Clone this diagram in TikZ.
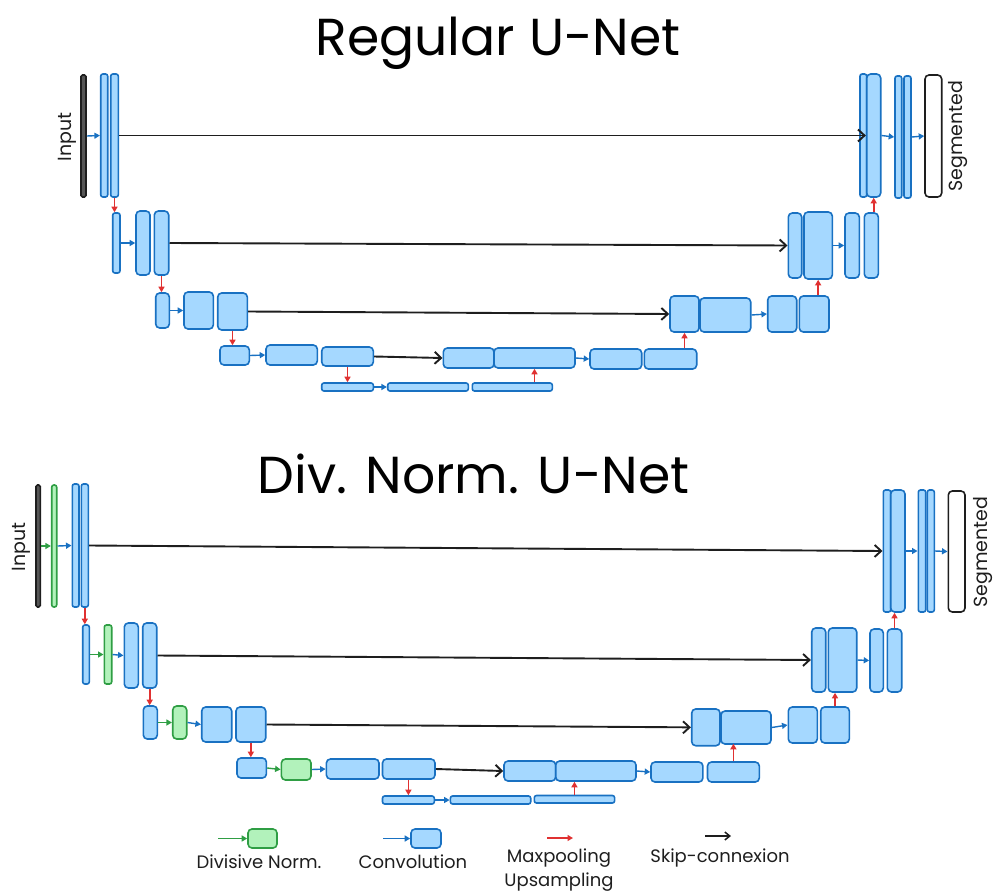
\documentclass[tikz,border=0pt]{standalone}
\usepackage{fontspec}
\setmainfont{Poppins}
\usetikzlibrary{arrows.meta}

\definecolor{convfill}{HTML}{A5D8FF}
\definecolor{convdraw}{HTML}{1971C2}
\definecolor{dnfill}{HTML}{B2F2BB}
\definecolor{dndraw}{HTML}{2F9E44}
\definecolor{poolred}{HTML}{E03131}
\definecolor{ink}{HTML}{1E1E1E}

\tikzset{
  layer/.style={rectangle, inner sep=0pt, line width=1.6pt},
  conv/.style={layer, rounded corners=4pt, fill=convfill, draw=convdraw},
  convthin/.style={layer, rounded corners=2.2pt, fill=convfill, draw=convdraw},
  dnorm/.style={layer, rounded corners=4pt, fill=dnfill, draw=dndraw},
  dnormthin/.style={layer, rounded corners=2.2pt, fill=dnfill, draw=dndraw},
  inbar/.style={layer, rounded corners=1.5pt, fill=ink!75, draw=ink},
  outbox/.style={layer, rounded corners=4pt, fill=white, draw=ink},
  convarrow/.style={draw=convdraw, line width=1.4pt, -{Triangle[length=5.5pt,width=6pt]}},
  dnarrow/.style={draw=dndraw, line width=1.4pt, -{Triangle[length=5.5pt,width=6pt]}},
  poolarrow/.style={draw=poolred, line width=1.6pt, -{Triangle[length=5.5pt,width=6pt]}},
  skiparrow/.style={draw=ink, line width=1.9pt, -{Straight Barb[length=6.5pt,width=12pt]}},
  legarrow/.style={line width=1.5pt, -{Straight Barb[length=5pt,width=8pt]}},
  title/.style={inner sep=0pt, font=\fontsize{52}{60}\selectfont},
  lbl/.style={inner sep=0pt, text=ink, font=\fontsize{18}{24}\selectfont},
  sidelbl/.style={lbl, rotate=90, font=\fontsize{19}{24}\selectfont},
}

% \layerbox{style}{name}{x1}{y1}{x2}{y2}
\newcommand\layerbox[6]{%
  \node[#1, minimum width={(#5-#3)*1pt}, minimum height={(#6-#4)*1pt}]
    (#2) at ({(#3+#5)/2},{(#4+#6)/2}) {};}

\begin{document}
\begin{tikzpicture}[x=1pt,y=-1pt]
\useasboundingbox (0,0) rectangle (993,894);

%% ---------------- Regular U-Net ----------------
\node[title, anchor=base] (t1) at (498,55) {Regular U-Net};

\node[sidelbl] (inlbl1) at (67,137) {Input};
\layerbox{inbar}{in1}{81}{75}{86}{197}
\layerbox{convthin}{e1a}{100.7}{74}{107.7}{197}
\layerbox{convthin}{e1b}{110.7}{74}{118.3}{197}

\layerbox{convthin}{e2a}{112.7}{213}{120}{273}
\layerbox{conv}{e2b}{136}{211}{150}{275}
\layerbox{conv}{e2c}{154.3}{211}{168.7}{275}

\layerbox{conv}{e3a}{155.7}{293}{169.3}{328}
\layerbox{conv}{e3b}{184}{292}{213.3}{329}
\layerbox{conv}{e3c}{217.7}{293}{247.3}{330}

\layerbox{conv}{e4a}{220}{346}{249.3}{365}
\layerbox{conv}{e4b}{266}{345}{317.3}{365}
\layerbox{conv}{e4c}{321.7}{347}{373.3}{366}

\layerbox{convthin}{b1}{321.7}{383}{373.3}{391}
\layerbox{convthin}{b2}{387.7}{383}{468.3}{391}
\layerbox{convthin}{b3}{472.3}{383}{552.3}{391}

\layerbox{conv}{d4a}{443.3}{348}{494}{368}
\layerbox{conv}{d4b}{494}{348}{575}{368}
\layerbox{conv}{d4c}{590}{349}{641.7}{369}
\layerbox{conv}{d4d}{644.3}{349}{696.7}{369}

\layerbox{conv}{d3a}{670}{296}{699}{332}
\layerbox{conv}{d3b}{700}{298}{750.7}{332}
\layerbox{conv}{d3c}{767.7}{296}{796.7}{332}
\layerbox{conv}{d3d}{799.3}{296}{829}{332}

\layerbox{conv}{d2a}{788.3}{213}{801.7}{278}
\layerbox{conv}{d2b}{804}{212}{832.3}{279}
\layerbox{conv}{d2c}{845}{213}{859.3}{278}
\layerbox{conv}{d2d}{864.3}{213}{878.3}{278}

\layerbox{convthin}{d1a}{860}{74}{866.7}{197}
\layerbox{conv}{d1b}{866.7}{74}{880.7}{197}
\layerbox{convthin}{d1c}{895}{76}{901.7}{198}
\layerbox{convthin}{d1d}{904}{76}{911}{198}
\layerbox{outbox}{out1}{925}{75}{941.7}{197}
\node[sidelbl] (outlbl1) at (958,136) {Segmented};

% convolutions
\draw[convarrow] (in1.east) -- (e1a.west);
\draw[convarrow] (e2a.east) -- (e2b.west);
\draw[convarrow] (e3a.east) -- (e3b.west);
\draw[convarrow] (e4a.east) -- (e4b.west);
\draw[convarrow] (b1.east) -- (b2.west);
\draw[convarrow] (d4b.east) -- (d4c.west);
\draw[convarrow] (d3b.east) -- (d3c.west);
\draw[convarrow] (d2b.east) -- (d2c.west);
\draw[convarrow] (d1b.east) -- (d1c.west);
\draw[convarrow] (d1d.east) -- (out1.west);
% skip connections
\draw[skiparrow] (e1b.east) -- (d1b.west);
\draw[skiparrow] (e2c.east) -- (d2a.west);
\draw[skiparrow] (e3c.east) -- (d3a.west);
\draw[skiparrow] (e4c.east) -- (d4a.west);
% pooling / upsampling
\draw[poolarrow] (e1b.south) -- (e1b.south |- e2a.north);
\draw[poolarrow] (e2c.south) -- (e2c.south |- e3a.north);
\draw[poolarrow] (e3c.south) -- (e3c.south |- e4a.north);
\draw[poolarrow] (e4c.south) -- (e4c.south |- b1.north);
\draw[poolarrow] (d4b.south |- b3.north) -- (d4b.south);
\draw[poolarrow] (d3a.south |- d4d.north) -- (d3a.south);
\draw[poolarrow] (d2b.south |- d3d.north) -- (d2b.south);
\draw[poolarrow] (d1b.south |- d2d.north) -- (d1b.south);

%% ---------------- Div. Norm. U-Net ----------------
\node[title, anchor=base] (t2) at (473.5,493) {Div. Norm. U-Net};

\node[sidelbl] (inlbl2) at (21,547) {Input};
\layerbox{inbar}{In}{36}{485}{40.3}{607}
\layerbox{dnormthin}{g1}{51.7}{485}{56.7}{607}
\layerbox{convthin}{E1a}{72.3}{484}{79}{607}
\layerbox{convthin}{E1b}{81.3}{484}{88.3}{607}

\layerbox{convthin}{E2a}{82.7}{625}{89.3}{684}
\layerbox{dnormthin}{g2}{104.3}{625}{111.7}{684}
\layerbox{conv}{E2b}{124.3}{623}{138.3}{688}
\layerbox{conv}{E2c}{142.7}{623}{156.7}{688}

\layerbox{conv}{E3a}{143.3}{706}{157.3}{739}
\layerbox{dnorm}{g3}{172.7}{706}{186.7}{739}
\layerbox{conv}{E3b}{201.7}{707}{231.7}{742}
\layerbox{conv}{E3c}{236}{707}{265.7}{742}

\layerbox{conv}{E4a}{237}{758}{266.4}{778}
\layerbox{dnorm}{g4}{281.4}{759}{311}{780}
\layerbox{conv}{E4b}{326.4}{759}{379}{779}
\layerbox{conv}{E4c}{382.5}{759}{435}{779}

\layerbox{convthin}{B1}{382.5}{796}{434.3}{804}
\layerbox{convthin}{B2}{450.4}{796}{530.7}{804}
\layerbox{convthin}{B3}{534.3}{795.5}{614.6}{803}

\layerbox{conv}{D4a}{504}{761}{555.7}{781}
\layerbox{conv}{D4b}{555.7}{761}{636}{781}
\layerbox{conv}{D4c}{651}{762}{702.9}{782}
\layerbox{conv}{D4d}{707.5}{762}{759.3}{782}

\layerbox{conv}{D3a}{691.7}{709}{720}{745.7}
\layerbox{conv}{D3b}{721}{711}{771}{744}
\layerbox{conv}{D3c}{788.3}{707}{817.3}{743}
\layerbox{conv}{D3d}{820.7}{707}{849.3}{743}

\layerbox{conv}{D2a}{811.7}{628}{825.7}{692}
\layerbox{conv}{D2b}{828.3}{628}{856.7}{692}
\layerbox{conv}{D2c}{870}{629}{883.3}{692}
\layerbox{conv}{D2d}{887.3}{629}{901.7}{692}

\layerbox{convthin}{D1a}{883.3}{490}{890.7}{612}
\layerbox{conv}{D1b}{890.7}{490}{905}{612}
\layerbox{convthin}{D1c}{918.3}{490}{925.7}{612}
\layerbox{convthin}{D1d}{927.3}{490}{934.3}{612}
\layerbox{outbox}{Out}{948.3}{491}{965}{612}
\node[sidelbl] (outlbl2) at (983,552) {Segmented};

% divisive normalisation
\draw[dnarrow] (In.east) -- (g1.west);
\draw[dnarrow] (E2a.east) -- (g2.west);
\draw[dnarrow] (E3a.east) -- (g3.west);
\draw[dnarrow] (E4a.east) -- (g4.west);
% convolutions
\draw[convarrow] (g1.east) -- (E1a.west);
\draw[convarrow] (g2.east) -- (E2b.west);
\draw[convarrow] (g3.east) -- (E3b.west);
\draw[convarrow] (g4.east) -- (E4b.west);
\draw[convarrow] (B1.east) -- (B2.west);
\draw[convarrow] (D4b.east) -- (D4c.west);
\draw[convarrow] (D3b.east) -- (D3c.west);
\draw[convarrow] (D2b.east) -- (D2c.west);
\draw[convarrow] (D1b.east) -- (D1c.west);
\draw[convarrow] (D1d.east) -- (Out.west);
% skip connections
\draw[skiparrow] (E1b.east) -- (D1a.west);
\draw[skiparrow] (E2c.east) -- (D2a.west);
\draw[skiparrow] (E3c.east) -- (D3a.west);
\draw[skiparrow] (E4c.east) -- (D4a.west);
% pooling / upsampling
\draw[poolarrow] (E1b.south) -- (E1b.south |- E2a.north);
\draw[poolarrow] (E2c.south) -- (E2c.south |- E3a.north);
\draw[poolarrow] (E3c.south) -- (E3c.south |- E4a.north);
\draw[poolarrow] (B1.north |- E4c.south) -- (B1.north);
\draw[poolarrow] (B3.north) -- (B3.north |- D4b.south);
\draw[poolarrow] (D4d.north) -- (D4d.north |- D3d.south);
\draw[poolarrow] (D3d.north) -- (D3d.north |- D2d.south);
\draw[poolarrow] (D2d.north) -- (D2d.north |- D1b.south);

%% ---------------- Legend ----------------
\layerbox{dnorm}{lgdn}{248}{829}{277}{848}
\coordinate (lgdnfrom) at (218,838.5);
\draw[dnarrow] (lgdnfrom) -- (lgdn.west);
\node[lbl] (lgdntxt) at (259,862) {Divisive Norm.};

\layerbox{conv}{lgcv}{411}{829}{441}{848}
\coordinate (lgcvfrom) at (383,838.5);
\draw[convarrow] (lgcvfrom) -- (lgcv.west);
\node[lbl] (lgcvtxt) at (413,862) {Convolution};

\coordinate (lgpfrom) at (547,838);
\coordinate (lgpto) at (573,838);
\draw[poolarrow] (lgpfrom) -- (lgpto);
\node[lbl, align=center] (lgptxt) at (559,870) {Maxpooling\\Upsampling};

\coordinate (lgsfrom) at (705,836);
\coordinate (lgsto) at (731,836);
\draw[legarrow, draw=ink] (lgsfrom) -- (lgsto);
\node[lbl] (lgstxt) at (720,858) {Skip-connexion};
\end{tikzpicture}
\end{document}
